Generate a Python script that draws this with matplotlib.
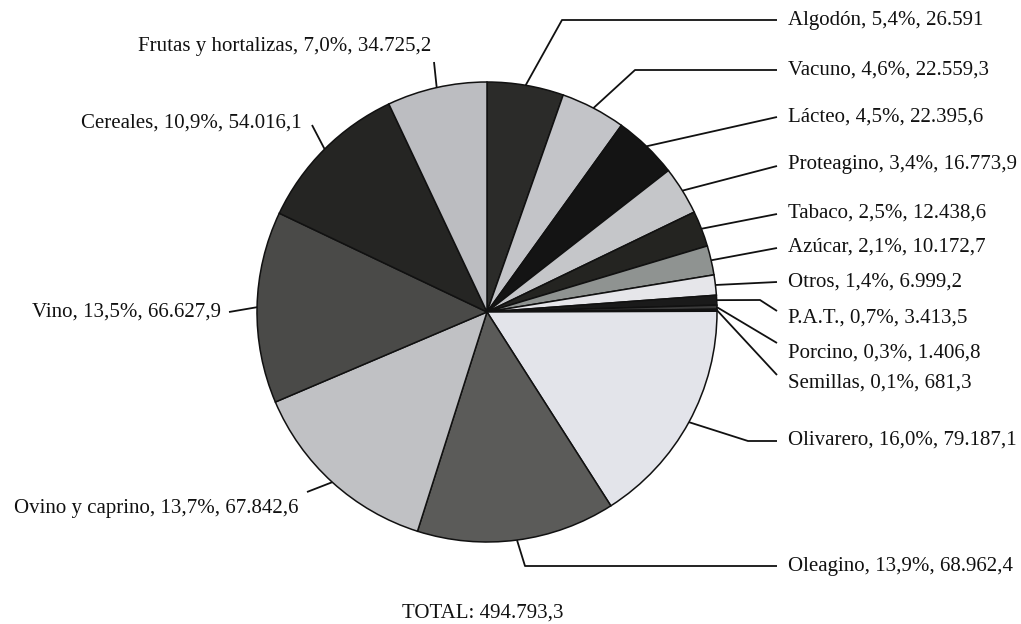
import numpy as np
import matplotlib
matplotlib.use('Agg')
import matplotlib.pyplot as plt

W, H = 1021, 624

# data (clockwise from the top)
labels = ['Algodón', 'Vacuno', 'Lácteo', 'Proteagino', 'Tabaco', 'Azúcar', 'Otros',
          'P.A.T.', 'Porcino', 'Semillas', 'Olivarero', 'Oleagino', 'Ovino y caprino',
          'Vino', 'Cereales', 'Frutas y hortalizas']
values = [26591, 22559.3, 22395.6, 16773.9, 12438.6, 10172.7, 6999.2,
          3413.5, 1406.8, 681.3, 79187.1, 68962.4, 67842.6,
          66627.9, 54016.1, 34725.2]
pct_text = ['5,4%', '4,6%', '4,5%', '3,4%', '2,5%', '2,1%', '1,4%',
            '0,7%', '0,3%', '0,1%', '16,0%', '13,9%', '13,7%',
            '13,5%', '10,9%', '7,0%']
val_text = ['26.591', '22.559,3', '22.395,6', '16.773,9', '12.438,6', '10.172,7', '6.999,2',
            '3.413,5', '1.406,8', '681,3', '79.187,1', '68.962,4', '67.842,6',
            '66.627,9', '54.016,1', '34.725,2']
total_text = 'TOTAL: 494.793,3'

colors = ['#2b2b29', '#c3c4c8', '#141414', '#c5c6c9', '#242421', '#8f9391', '#e6e6ea',
          '#1a1a1a', '#3a3a3a', '#111111', '#e3e4ea', '#5b5b59', '#c0c1c4',
          '#4a4a48', '#252523', '#bcbdc1']

# label layout: text x, text y, side, elbow point (None), line end point
layout = [
    (788, 20, 'r', (562, 20), (777, 20)),
    (788, 70, 'r', (635, 70), (777, 70)),
    (788, 117, 'r', None, (777, 117)),
    (788, 165, 'r', None, (777, 166)),
    (788, 213, 'r', None, (777, 214)),
    (788, 247, 'r', None, (777, 248)),
    (788, 282, 'r', None, (777, 282)),
    (788, 318, 'r', (760, 300), (777, 311)),
    (788, 353, 'r', None, (777, 343)),
    (788, 383, 'r', None, (777, 375)),
    (788, 440, 'r', (748, 441), (777, 441)),
    (788, 567, 'r', (525, 566), (777, 566)),
    (298, 508, 'l', None, (307, 492)),
    (221, 312, 'l', None, (229, 312)),
    (302, 123, 'l', None, (312, 125)),
    (431, 47, 'l', None, (434, 62)),
]

plt.rcParams['font.family'] = ['Liberation Serif', 'DejaVu Serif']

fig = plt.figure(figsize=(W / 100, H / 100), dpi=100)
ax = fig.add_axes([0, 0, 1, 1])

cx, cy, R = 487, H - 312, 230
wedges, _ = ax.pie(values, colors=colors, startangle=90, counterclock=False,
                   center=(cx, cy), radius=R, frame=True,
                   wedgeprops=dict(edgecolor='#111111', linewidth=1.1))
ax.set_xlim(0, W)
ax.set_ylim(0, H)
ax.set_aspect('equal')
ax.axis('off')

for i, w in enumerate(wedges):
    ang = np.deg2rad((w.theta1 + w.theta2) / 2)
    ax_, ay_ = cx + R * np.cos(ang), cy + R * np.sin(ang)
    tx, ty, side, elbow, end = layout[i]
    xs, ys = [ax_], [ay_]
    if elbow is not None:
        xs.append(elbow[0]); ys.append(H - elbow[1])
    xs.append(end[0]); ys.append(H - end[1])
    ax.plot(xs, ys, color='#111111', lw=1.3, solid_capstyle='butt')
    txt = f'{labels[i]}, {pct_text[i]}, {val_text[i]}'
    ax.text(tx, H - ty, txt, ha='left' if side == 'r' else 'right', va='center',
            fontsize=15, color='#111111')

ax.text(483, H - 613, total_text, ha='center', va='center', fontsize=15, color='#111111')

fig.savefig('out.png', dpi=100)
